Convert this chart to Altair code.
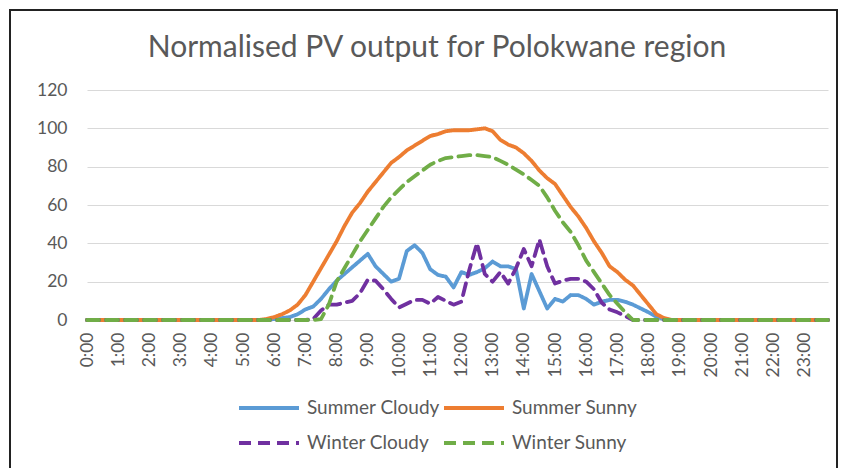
import altair as alt
import pandas as pd

# 15-minute time steps
times = [f"{h}:{m:02d}" for h in range(24) for m in (0, 15, 30, 45)]
hour_labels = [f"{h}:00" for h in range(24)]

title_text = "Normalised PV output for Polokwane region"
series_names = ["Summer Cloudy", "Summer Sunny", "Winter Cloudy", "Winter Sunny"]
series_colors = ["#5B9BD5", "#ED7D31", "#7030A0", "#70AD47"]

summer_cloudy = [
    0, 0, 0, 0, 0, 0, 0, 0,
    0, 0, 0, 0, 0, 0, 0, 0,
    0, 0, 0, 0, 0, 0, 0, 0,
    0.5, 1, 1.5, 3, 5.5, 7, 11, 16,
    20.5, 24, 27.5, 31, 34.5, 28, 24, 20,
    21.5, 36, 39, 35, 26.5, 23.5, 22.6, 17,
    25, 23.5, 25, 27, 30.5, 28, 28, 26.5,
    6, 24, 15, 6, 11, 9.6, 13, 13,
    11, 8, 9.5, 10.5, 10.5, 9.5, 8, 6,
    4, 1.7, 0.3, 0, 0, 0, 0, 0,
    0, 0, 0, 0, 0, 0, 0, 0,
    0, 0, 0, 0, 0, 0, 0, 0,
]
summer_sunny = [
    0, 0, 0, 0, 0, 0, 0, 0,
    0, 0, 0, 0, 0, 0, 0, 0,
    0, 0, 0, 0, 0, 0, 0, 0.5,
    1.5, 3, 5, 8, 13, 20, 27, 34,
    41, 49, 56, 61, 67, 72, 77, 82,
    85, 88.5, 91, 93.5, 96, 97, 98.5, 99,
    99, 99, 99.5, 100, 98.5, 94, 91.5, 90,
    87, 83, 78, 74, 71, 65, 59, 54,
    48, 41, 35, 28, 25, 21, 18, 13,
    8, 3, 1, 0, 0, 0, 0, 0,
    0, 0, 0, 0, 0, 0, 0, 0,
    0, 0, 0, 0, 0, 0, 0, 0,
]
winter_cloudy = [
    0, 0, 0, 0, 0, 0, 0, 0,
    0, 0, 0, 0, 0, 0, 0, 0,
    0, 0, 0, 0, 0, 0, 0, 0,
    0, 0, 0, 0, 0, 0.5, 5, 8,
    8, 9, 10, 14, 21, 20.5, 16, 11,
    6.5, 8.5, 10.5, 10.5, 8.5, 12, 10, 8,
    9.6, 26, 40, 24, 20, 25, 19, 27,
    37, 28, 42, 28, 19, 20.5, 21.5, 21.5,
    20, 16, 9, 5.5, 4, 2, 0, 0,
    0, 0, 0, 0, 0, 0, 0, 0,
    0, 0, 0, 0, 0, 0, 0, 0,
    0, 0, 0, 0, 0, 0, 0, 0,
]
winter_sunny = [
    0, 0, 0, 0, 0, 0, 0, 0,
    0, 0, 0, 0, 0, 0, 0, 0,
    0, 0, 0, 0, 0, 0, 0, 0,
    0, 0, 0, 0, 0, 0, 0.5, 8,
    20, 27, 34, 41, 47, 53, 59, 64,
    68, 72, 75, 78, 81, 83, 84.5, 85,
    85.5, 86, 86, 85.5, 85, 83, 81, 78.5,
    76, 73, 70, 64, 57, 51, 46, 39,
    31, 25, 19, 13, 8.5, 4, 0, 0,
    0, 0, 0, 0, 0, 0, 0, 0,
    0, 0, 0, 0, 0, 0, 0, 0,
    0, 0, 0, 0, 0, 0, 0, 0,
]

values_by_series = [summer_cloudy, summer_sunny, winter_cloudy, winter_sunny]
rows = []
for name, vals in zip(series_names, values_by_series):
    for t, v in zip(times, vals):
        rows.append({"time": t, "series": name, "value": v})
df = pd.DataFrame(rows)

FONT = "Lato"
GREY = "#595959"

legend = alt.Legend(
    orient="none", legendX=160, legendY=296, columns=2, direction="horizontal",
    title=None,
    symbolType="M-1.5,0H1.5", symbolSize=1600, symbolStrokeWidth=3.8,
    labelFont=FONT, labelFontSize=19, labelColor=GREY, labelOffset=16,
    columnPadding=-4, rowPadding=3,
)

lines = alt.Chart(df).mark_line(strokeWidth=3.8, strokeCap="round", strokeJoin="round").encode(
    x=alt.X("time:O", sort=times,
            scale=alt.Scale(type="point", padding=0),
            axis=alt.Axis(values=hour_labels, labelAngle=270, title=None,
                          grid=False, ticks=False, domain=False,
                          labelFont=FONT, labelFontSize=17.5, labelColor=GREY,
                          labelPadding=12)),
    y=alt.Y("value:Q", scale=alt.Scale(domain=[0, 120]),
            axis=alt.Axis(values=[0, 20, 40, 60, 80, 100, 120], title=None,
                          grid=True, gridColor="#D9D9D9", gridWidth=1.2,
                          ticks=False, domain=False,
                          labelFont=FONT, labelFontSize=17.5, labelColor=GREY,
                          labelPadding=20)),
    color=alt.Color("series:N", scale=alt.Scale(domain=series_names, range=series_colors),
                    legend=legend),
    strokeDash=alt.StrokeDash("series:N",
                              scale=alt.Scale(domain=series_names,
                                              range=[[1, 0], [1, 0], [12, 7], [12, 7]]),
                              legend=legend),
)

title = alt.Chart(alt.Data(values=[{}])).mark_text(
    text=title_text, font=FONT, fontSize=30, color=GREY,
    align="center", baseline="alphabetic"
).encode(x=alt.value(350), y=alt.value(-33))

border = alt.Chart(alt.Data(values=[{}])).mark_rect(
    fill="transparent", stroke="#222222", strokeWidth=2
).encode(
    x=alt.value(-77), x2=alt.value(750), y=alt.value(-80), y2=alt.value(420)
)

chart = alt.layer(lines, title, border).properties(
    width=741, height=230,
    autosize=alt.AutoSizeParams(type="none"),
    padding={"left": 79, "top": 82, "right": 10, "bottom": 148},
).configure_view(stroke=None)

chart.save("out.html", embed_options={"renderer": "svg", "actions": False})
